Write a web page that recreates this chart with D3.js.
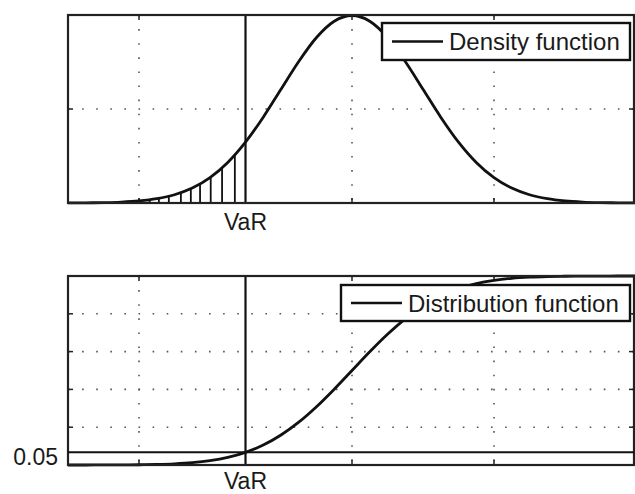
<!DOCTYPE html>
<html>
<head>
<meta charset="utf-8">
<script src="https://cdn.jsdelivr.net/npm/d3@7"></script>
<style>
  body { margin: 0; background: #fff; }
  text { font-family: "Liberation Sans", Arial, sans-serif; fill: #1a1a1a; }
</style>
</head>
<body>
<div id="chart"></div>
<script>
// x positions (in standard deviations) where the curves were read
const xs = [-4, -3.75, -3.5, -3.25, -3, -2.75, -2.5, -2.25, -2, -1.75, -1.5, -1.25, -1, -0.75, -0.5, -0.25,
  0, 0.25, 0.5, 0.75, 1, 1.25, 1.5, 1.75, 2, 2.25, 2.5, 2.75, 3, 3.25, 3.5, 3.75, 4];

// density values
const densityValues = [0.0001, 0.0004, 0.0009, 0.0020, 0.0044, 0.0091, 0.0175, 0.0317, 0.0540, 0.0863, 0.1295,
  0.1826, 0.2420, 0.3011, 0.3521, 0.3867, 0.3989, 0.3867, 0.3521, 0.3011, 0.2420, 0.1826, 0.1295, 0.0863,
  0.0540, 0.0317, 0.0175, 0.0091, 0.0044, 0.0020, 0.0009, 0.0004, 0.0001];

// distribution values
const cdfValues = [0.0000, 0.0001, 0.0002, 0.0006, 0.0013, 0.0030, 0.0062, 0.0122, 0.0228, 0.0401, 0.0668,
  0.1056, 0.1587, 0.2266, 0.3085, 0.4013, 0.5, 0.5987, 0.6915, 0.7734, 0.8413, 0.8944, 0.9332, 0.9599,
  0.9772, 0.9878, 0.9938, 0.9970, 0.9987, 0.9994, 0.9998, 0.9999, 1.0];

const xTicks = [-3, 0, 2];
const densityTicks = [0.2];
const cdfTicks = [0.2, 0.4, 0.6, 0.8];
const varX = -1.5;
const levelValue = 0.068;   // where the "0.05" line sits in the picture
const levelLabel = "0.05";
const hatchXs = [-2.85, -2.72, -2.58, -2.41, -2.27, -2.14, -1.99, -1.83, -1.65];

const width = 635, height = 494;
const left = 68, right = 634;

const svg = d3.select("#chart").append("svg")
  .attr("width", width)
  .attr("height", height);

svg.append("rect").attr("width", width).attr("height", height).attr("fill", "#fff");

const x = d3.scaleLinear().domain([-4, 4]).range([left, 636]);

function panel(y0, y1, yDomain, yTicks, values, legendText, legendBox, labelGap) {
  const y = d3.scaleLinear().domain(yDomain).range([y1, y0]);
  const g = svg.append("g");

  // dotted grid
  g.selectAll(".vgrid").data(xTicks).enter().append("line")
    .attr("x1", d => x(d)).attr("x2", d => x(d))
    .attr("y1", y0).attr("y2", y1)
    .attr("stroke", "#555").attr("stroke-width", 1.6)
    .attr("stroke-dasharray", "1.6,12.5");
  g.selectAll(".hgrid").data(yTicks).enter().append("line")
    .attr("x1", left).attr("x2", right)
    .attr("y1", d => y(d)).attr("y2", d => y(d))
    .attr("stroke", "#555").attr("stroke-width", 1.6)
    .attr("stroke-dasharray", "1.6,12.5");

  // inward tick marks
  g.selectAll(".xt").data(xTicks).enter().append("line")
    .attr("x1", d => x(d)).attr("x2", d => x(d))
    .attr("y1", y1).attr("y2", y1 - 5)
    .attr("stroke", "#222").attr("stroke-width", 1.5);
  g.selectAll(".xt2").data(xTicks).enter().append("line")
    .attr("x1", d => x(d)).attr("x2", d => x(d))
    .attr("y1", y0).attr("y2", y0 + 5)
    .attr("stroke", "#222").attr("stroke-width", 1.5);
  g.selectAll(".yt").data(yTicks).enter().append("line")
    .attr("x1", left).attr("x2", left + 5)
    .attr("y1", d => y(d)).attr("y2", d => y(d))
    .attr("stroke", "#222").attr("stroke-width", 1.5);
  g.selectAll(".yt2").data(yTicks).enter().append("line")
    .attr("x1", right).attr("x2", right - 5)
    .attr("y1", d => y(d)).attr("y2", d => y(d))
    .attr("stroke", "#222").attr("stroke-width", 1.5);

  const line = d3.line()
    .x((d, i) => x(xs[i]))
    .y(d => y(d))
    .curve(d3.curveMonotoneX);

  const path = g.append("path")
    .datum(values)
    .attr("fill", "none")
    .attr("stroke", "#111")
    .attr("stroke-width", 2.8)
    .attr("d", line);

  // VaR line
  g.append("line")
    .attr("x1", x(varX)).attr("x2", x(varX))
    .attr("y1", y0).attr("y2", y1)
    .attr("stroke", "#111").attr("stroke-width", 2.2);

  g.append("text")
    .attr("x", x(varX)).attr("y", y1 + labelGap)
    .attr("text-anchor", "middle")
    .attr("font-size", 23)
    .text("VaR");

  // axes box
  g.append("rect")
    .attr("x", left).attr("y", y0)
    .attr("width", right - left).attr("height", y1 - y0)
    .attr("fill", "none").attr("stroke", "#222").attr("stroke-width", 2.2);

  // legend
  const lg = g.append("g");
  lg.append("rect")
    .attr("x", legendBox.x).attr("y", legendBox.y)
    .attr("width", legendBox.w).attr("height", legendBox.h)
    .attr("fill", "#fff").attr("stroke", "#111").attr("stroke-width", 2.4);
  const ly = legendBox.y + legendBox.h / 2;
  lg.append("line")
    .attr("x1", legendBox.x + 10).attr("x2", legendBox.x + 61)
    .attr("y1", ly).attr("y2", ly)
    .attr("stroke", "#111").attr("stroke-width", 2.4);
  lg.append("text")
    .attr("x", legendBox.x + 67).attr("y", ly + 8.5)
    .attr("font-size", 24)
    .text(legendText);

  return { g, y, path };
}

const densityPanel = panel(15, 203, [0, 0.4], densityTicks, densityValues, "Density function",
  { x: 382, y: 23, w: 248, h: 37 }, 27);
const cdfPanel = panel(276, 465, [0, 1], cdfTicks, cdfValues, "Distribution function",
  { x: 341, y: 285, w: 289, h: 36 }, 24);

// hatching under the density tail, up to the drawn curve
function yAtX(node, px) {
  const len = node.getTotalLength();
  let lo = 0, hi = len;
  for (let k = 0; k < 40; k++) {
    const mid = (lo + hi) / 2;
    if (node.getPointAtLength(mid).x < px) lo = mid; else hi = mid;
  }
  return node.getPointAtLength(lo).y;
}
const pnode = densityPanel.path.node();
densityPanel.g.insert("g", "path").selectAll("line").data(hatchXs).enter().append("line")
  .attr("x1", d => x(d)).attr("x2", d => x(d))
  .attr("y1", densityPanel.y(0)).attr("y2", d => yAtX(pnode, x(d)))
  .attr("stroke", "#111").attr("stroke-width", 1.8);

// level line in the distribution panel
cdfPanel.g.append("line")
  .attr("x1", left).attr("x2", right)
  .attr("y1", cdfPanel.y(levelValue)).attr("y2", cdfPanel.y(levelValue))
  .attr("stroke", "#111").attr("stroke-width", 2);
cdfPanel.g.append("text")
  .attr("x", 58).attr("y", cdfPanel.y(levelValue) + 13)
  .attr("text-anchor", "end")
  .attr("font-size", 23)
  .text(levelLabel);
</script>
</body>
</html>
